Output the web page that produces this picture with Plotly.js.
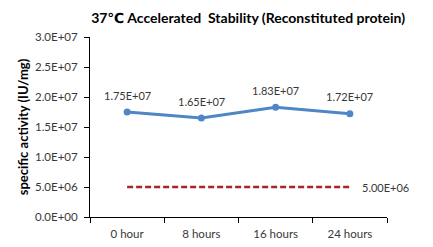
<!DOCTYPE html>
<html>
<head>
<meta charset="utf-8">
<script src="https://cdn.plot.ly/plotly-3.0.1.min.js"></script>
<style>html,body{margin:0;padding:0;background:#fff;}#chart{width:433px;height:247px;}</style>
</head>
<body>
<div id="chart"></div>
<script>
const categories = ["0 hour", "8 hours", "16 hours", "24 hours"];
const activityValues = [1.75e7, 1.65e7, 1.83e7, 1.72e7];
const limitValues = [5.0e6, 5.0e6, 5.0e6, 5.0e6];
const yTickValues = [0, 5e6, 1e7, 1.5e7, 2e7, 2.5e7, 3e7];

function sci(v, d) {
  const s = v.toExponential(d);
  const parts = s.split("e");
  const exp = parseInt(parts[1], 10);
  const sign = exp < 0 ? "-" : "+";
  const ab = Math.abs(exp);
  return parts[0] + "E" + sign + (ab < 10 ? "0" + ab : "" + ab);
}

const font = "Lato, 'Open Sans', 'DejaVu Sans', sans-serif";
const gray = "#383838";

const traces = [
  {
    x: categories, y: activityValues, type: "scatter", mode: "lines+markers",
    line: {color: "#4F87C6", width: 3},
    marker: {color: "#4F87C6", size: 7},
    cliponaxis: false,
    hoverinfo: "none", showlegend: false
  },
  {
    x: categories, y: limitValues, type: "scatter", mode: "lines",
    line: {color: "#A8232A", width: 2.5, dash: "6px,3px"},
    cliponaxis: false,
    hoverinfo: "none", showlegend: false
  }
];

const annotations = activityValues.map((v, i) => ({
  x: categories[i], y: v, xref: "x", yref: "y",
  text: sci(v, 2), showarrow: false, yshift: 17,
  font: {family: font, size: 11, color: gray}
}));
const li = limitValues.length - 1;
annotations.push({
  x: categories[li], y: limitValues[li], xref: "x", yref: "y",
  text: sci(limitValues[li], 2), showarrow: false,
  xanchor: "left", xshift: 10,
  font: {family: font, size: 11, color: gray}
});

const layout = {
  width: 433, height: 247,
  margin: {l: 90, r: 46, t: 37, b: 30},
  paper_bgcolor: "#fff", plot_bgcolor: "#fff",
  font: {family: font, size: 11, color: gray},
  title: {
    text: "37℃ Accelerated  Stability (Reconstituted protein)",
    font: {family: font, size: 14, color: "#000", weight: "bold"},
    x: 0.573, xanchor: "center", y: 0.925, yanchor: "middle"
  },
  annotations: annotations,
  xaxis: {
    type: "category", range: [-0.5, 3.5],
    showline: true, linecolor: "#000", linewidth: 1,
    ticks: "outside", ticklen: 5, tickcolor: "#000", tickson: "boundaries",
    ticklabelstandoff: 6,
    showgrid: false, zeroline: false,
    tickfont: {family: font, size: 11.5, color: gray}
  },
  yaxis: {
    range: [0, 3e7],
    automargin: true,
    tickvals: yTickValues, ticktext: yTickValues.map(v => sci(v, 1)),
    showline: true, linecolor: "#000", linewidth: 1,
    ticks: "outside", ticklen: 5, tickcolor: "#000",
    ticklabelstandoff: 4,
    showgrid: false, zeroline: false,
    tickfont: {family: font, size: 11.5, color: gray},
    title: {text: "specific activity (IU/mg)", font: {family: font, size: 13, color: "#000", weight: "bold"}, standoff: 3}
  }
};

Plotly.newPlot("chart", traces, layout, {staticPlot: true, displayModeBar: false});
</script>
</body>
</html>
